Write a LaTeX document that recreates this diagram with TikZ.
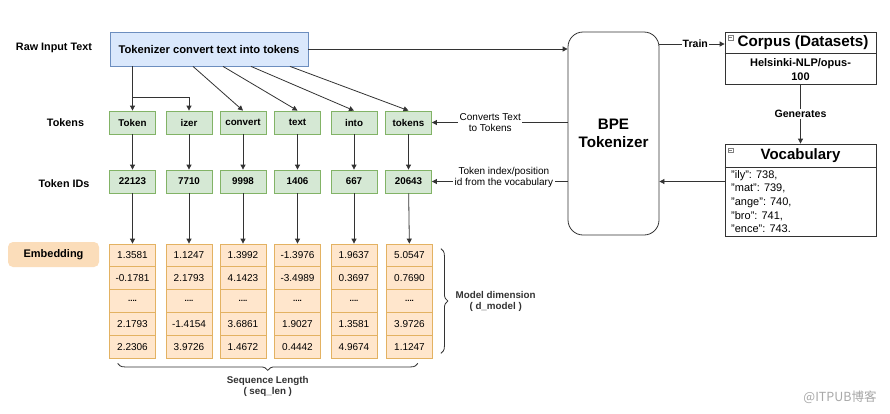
\documentclass[tikz,border=0pt]{standalone}
\usepackage{fontspec}
\setmainfont{Liberation Sans}
\newfontfamily\cjkfont{Noto Sans CJK SC}
\usetikzlibrary{arrows.meta,decorations.pathreplacing,calc}
\definecolor{bluefill}{HTML}{DAE8FC}
\definecolor{bluedraw}{HTML}{6C8EBF}
\definecolor{greenfill}{HTML}{D5E8D4}
\definecolor{greendraw}{HTML}{82B366}
\definecolor{orfill}{HTML}{FFE6CC}
\definecolor{ordraw}{HTML}{E3B262}
\definecolor{embfill}{HTML}{FBDDBA}
\definecolor{linec}{HTML}{333333}
\definecolor{wmark}{HTML}{A8A8A8}
\begin{document}
\begin{tikzpicture}[x=1pt,y=-1pt,
  tok/.style={draw=greendraw, fill=greenfill, line width=0.8pt, minimum width=46pt, minimum height=23pt, inner sep=0pt, font=\fontsize{9.8}{11}\selectfont\bfseries},
  cell/.style={draw=ordraw, fill=orfill, line width=0.8pt, minimum width=46pt, minimum height=22.8pt, inner sep=0pt, font=\fontsize{10}{11}\selectfont},
  arr/.style={-{Triangle[length=5pt,width=5pt]}, draw=linec, line width=0.8pt},
  rowlab/.style={font=\fontsize{10.8}{12}\selectfont\bfseries},
  edgelab/.style={fill=white, inner sep=1.5pt, align=center, font=\fontsize{10}{11.5}\selectfont},
  boldlab/.style={fill=white, inner sep=1.5pt, align=center, font=\fontsize{10.6}{12}\selectfont\bfseries},
  umlbox/.style={draw=linec, line width=0.8pt, fill=white, inner sep=0pt},
  icon/.style={draw=gray, line width=0.4pt, minimum size=4.5pt, inner sep=0pt},
  bracelab/.style={align=center, font=\fontsize{9.8}{11}\selectfont\bfseries}
]
\useasboundingbox (0,0) rectangle (890,413);
\fill[white] (0,0) rectangle (890,413);

% row labels
\node[rowlab] (lraw) at (54,48) {Raw Input Text};
\node[rowlab] (ltok) at (65.5,122.5) {Tokens};
\node[rowlab] (lids) at (64,184) {Token IDs};
\node[rounded corners=5pt, fill=embfill, minimum width=91pt, minimum height=25pt, inner sep=0pt,
      font=\fontsize{11}{12}\selectfont\bfseries] (lemb) at (53.5,254.5) {Embedding};

% raw input box
\node[draw=bluedraw, fill=bluefill, line width=0.8pt, minimum width=198pt, minimum height=34pt, inner sep=0pt,
      font=\fontsize{11.2}{13}\selectfont\bfseries] (raw) at (209,49) {Tokenizer convert text into tokens};

% tokens, ids
\foreach \i/\x/\t/\n in {1/132.5/Token/22123, 2/189/izer/7710, 3/243/convert/9998,
                         4/297.5/text/1406, 5/354/into/667, 6/408.5/tokens/20643} {
  \node[tok] (t\i) at (\x,122.5) {\t};
  \node[tok] (i\i) at (\x,181.5) {\n};
  \draw[arr] (t\i) -- (i\i);
}

% embedding cells
\foreach \i/\x/\a/\b/\c/\d in {1/132.5/1.3581/-0.1781/2.1793/2.2306,
                               2/189/1.1247/2.1793/-1.4154/3.9726,
                               3/243/1.3992/4.1423/3.6861/1.4672,
                               4/297.5/-1.3976/-3.4989/1.9027/0.4442,
                               5/354/1.9637/0.3697/1.3581/4.9674,
                               6/409.5/5.0547/0.7690/3.9726/1.1247} {
  \node[cell] (e\i-1) at (\x,255.4) {\a};
  \node[cell] (e\i-2) at (\x,278.2) {\b};
  \node[cell] (e\i-3) at (\x,301.0) {\raisebox{0.5pt}{\fontsize{8}{8}\selectfont\bfseries....}};
  \node[cell] (e\i-4) at (\x,323.8) {\c};
  \node[cell] (e\i-5) at (\x,346.6) {\d};
  \draw[arr] (i\i) -- (e\i-1);
}

% raw -> tokens
\draw[arr] (raw.south -| t1.north) -- (t1.north);
\draw[arr] (raw.south -| t1.north) -- ++(0,31) -| (t2.north);
\draw[arr] ([xshift=-16pt]raw.south) -- (t3.north);
\draw[arr] ([xshift=14pt]raw.south) -- (t4.north);
\draw[arr] ([xshift=42pt]raw.south) -- (t5.north);
\draw[arr] ([xshift=81pt]raw.south) -- (t6.north);

% BPE tokenizer
\node[draw=linec, line width=0.8pt, rounded corners=15pt, minimum width=91pt, minimum height=203pt, inner sep=0pt,
      align=center, font=\fontsize{15.2}{18}\selectfont\bfseries] (bpe) at (613.5,133.5) {BPE\\Tokenizer};

\draw[arr] (raw.east) -- (raw.east -| bpe.west);
\draw[arr] (bpe.west |- t6.east) -- node[edgelab, pos=0.57] {Converts Text\\to Tokens} (t6.east);
\draw[arr] (bpe.west |- i6.east) -- node[edgelab, pos=0.47, yshift=4pt] {Token index/position\\id from the vocabulary} (i6.east);

% corpus
\node[umlbox, minimum width=151pt, minimum height=52pt] (corpus) at (800.5,58) {};
\draw[linec, line width=0.8pt] (corpus.west |- 0,53) -- (corpus.east |- 0,53);
\node[font=\fontsize{15.2}{17}\selectfont\bfseries] (ctitle) at (803,42.5) {Corpus (Datasets)};
\node[align=center, font=\fontsize{11}{14}\selectfont\bfseries] (cbody) at (800.5,70) {Helsinki-NLP/opus-\\100};
\node[icon] (cicon) at (730.5,37.5) {};
\draw[gray, line width=0.4pt] ([xshift=1pt]cicon.west) -- ([xshift=-1pt]cicon.east);

% vocabulary
\node[umlbox, minimum width=151pt, minimum height=92pt] (vocab) at (800.5,190) {};
\draw[linec, line width=0.8pt] (vocab.west |- 0,167) -- (vocab.east |- 0,167);
\node[font=\fontsize{15}{17}\selectfont\bfseries] (vtitle) at (800.5,155.5) {Vocabulary};
\node[anchor=north west, inner sep=0pt, align=left, font=\fontsize{11}{13.7}\selectfont] (vbody) at (731,170)
  {"ily": 738,\\"mat": 739,\\"ange": 740,\\"bro": 741,\\"ence": 743.};
\node[icon] (vicon) at (730.5,150) {};
\draw[gray, line width=0.4pt] ([xshift=1pt]vicon.west) -- ([xshift=-1pt]vicon.east);

\draw[arr] (bpe.east |- 0,44) -- node[boldlab, pos=0.55, inner sep=1pt] {Train} (corpus.west |- 0,44);
\draw[arr] (corpus.south) -- node[boldlab] {Generates} (vocab.north);
\draw[arr] (vocab.west |- i6.east) -- (bpe.east |- i6.east);

% braces
\draw[linec, line width=0.8pt, decorate, decoration={brace, amplitude=7pt}]
  ([xshift=8pt, yshift=-5pt]e6-1.north east) -- ([xshift=8pt, yshift=5pt]e6-5.south east)
  node[midway, xshift=11pt, anchor=west, bracelab] (ldim) {Model dimension\\( d\_model )};
\draw[linec, line width=0.8pt, decorate, decoration={brace, amplitude=7pt}]
  ([xshift=-15pt, yshift=-5pt]e6-5.south east) -- ([xshift=8.5pt, yshift=-5pt]e1-5.south west)
  node[midway, yshift=-9pt, anchor=north, bracelab] (lseq) {Sequence Length\\( seq\_len )};

% watermark
\node[text=wmark, font=\cjkfont\fontsize{12.5}{14}\selectfont] (wm) at (840,397) {@ITPUB博客};
\end{tikzpicture}
\end{document}
